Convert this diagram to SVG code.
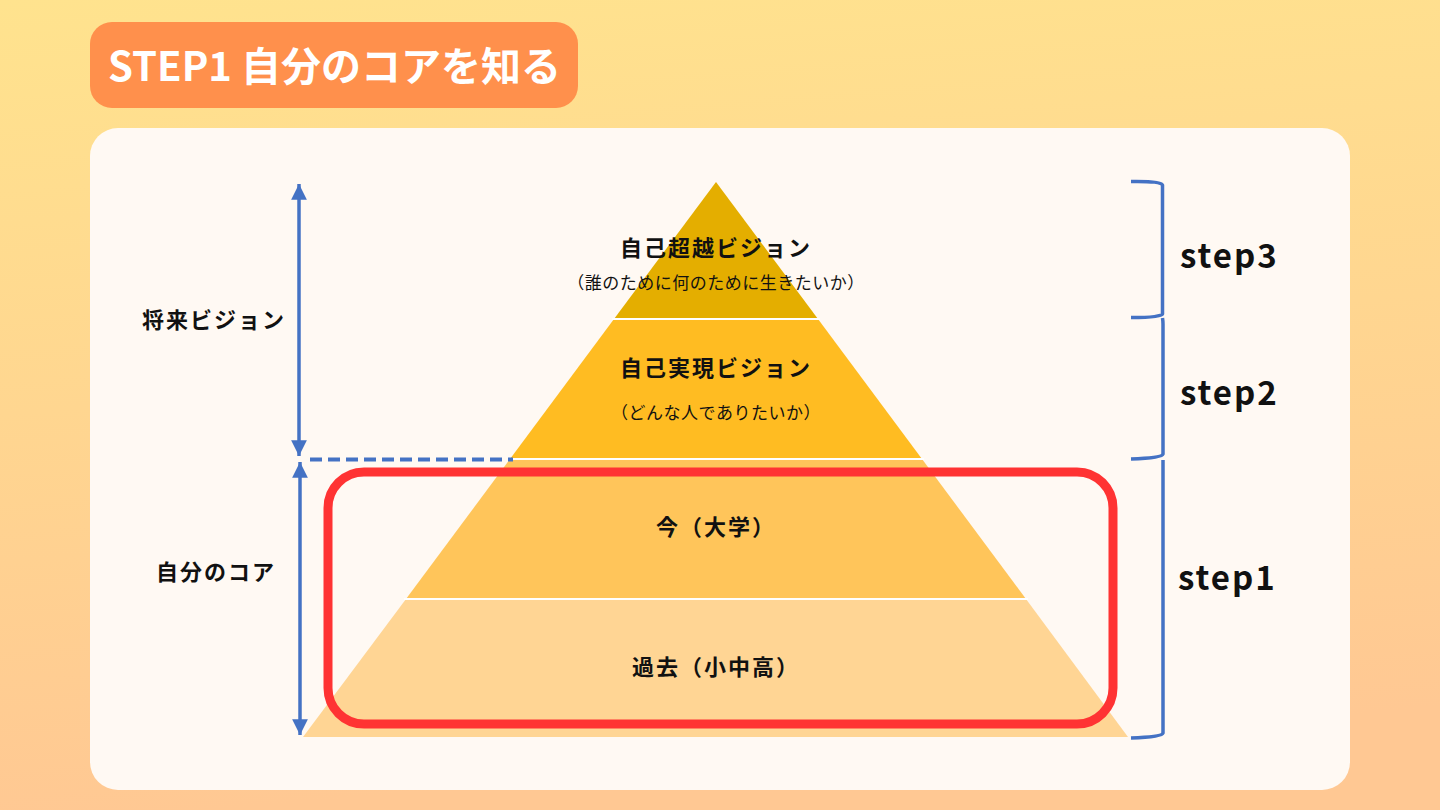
<svg xmlns="http://www.w3.org/2000/svg" width="1440" height="810" viewBox="0 0 1440 810">
<defs>
<linearGradient id="bg" x1="0" y1="0" x2="0.15" y2="1">
<stop offset="0" stop-color="#FFE38E"/>
<stop offset="0.5" stop-color="#FFD690"/>
<stop offset="1" stop-color="#FFC893"/>
</linearGradient>
<marker id="ah" viewBox="0 0 10 10" refX="10" refY="5" markerWidth="4.5" markerHeight="4.5" orient="auto-start-reverse" markerUnits="strokeWidth">
<path d="M0,0 L10,5 L0,10 z" fill="#4472C4"/>
</marker>
<style>
.jp{font-family:"Noto Sans CJK JP","Noto Sans",sans-serif;font-weight:bold;fill:#111}
.main{font-size:22px;letter-spacing:2px}
.sub{font-size:17px;letter-spacing:0.5px;font-weight:normal}
.step{font-family:"Noto Sans CJK JP","Noto Sans",sans-serif;font-weight:bold;font-size:33px;letter-spacing:2px;fill:#111}
.blue{stroke:#4472C4;stroke-width:3.5;fill:none}
.sep{stroke:#FFFFFF;stroke-width:2}
</style>
</defs>
<rect width="1440" height="810" fill="url(#bg)"/>
<g id="title">
<rect x="90" y="22" width="488" height="86" rx="22" fill="#FF904C"/>
<text x="108" y="81" font-family="'Noto Sans CJK JP','Noto Sans',sans-serif" font-weight="bold" font-size="40" fill="#FFFFFF">STEP1 自分のコアを知る</text>
</g>
<g id="panel">
<rect x="90" y="128" width="1260" height="662" rx="28" fill="#FFF9F3"/>
</g>
<g id="layer-top">
<polygon points="716,182 818,319 614,319" fill="#E4AE00"/>
<text class="jp main" x="716" y="256" text-anchor="middle">自己超越ビジョン</text>
<text class="jp sub" x="716" y="289" text-anchor="middle">（誰のために何のために生きたいか）</text>
</g>
<g id="layer-self">
<polygon points="614,319 818,319 922,459 510,459" fill="#FFBC22"/>
<text class="jp main" x="716" y="376" text-anchor="middle">自己実現ビジョン</text>
<text class="jp sub" x="716" y="419" text-anchor="middle">（どんな人でありたいか）</text>
</g>
<g id="layer-now">
<polygon points="510,459 922,459 1026,599 406,599" fill="#FFC55A"/>
<text class="jp main" x="716" y="535" text-anchor="middle">今（大学）</text>
</g>
<g id="layer-past">
<polygon points="406,599 1026,599 1128,737 303,737" fill="#FFD594"/>
<text class="jp main" x="716" y="675" text-anchor="middle">過去（小中高）</text>
</g>
<g id="separators">
<line class="sep" x1="612" y1="319" x2="820" y2="319"/>
<line class="sep" x1="508" y1="459" x2="924" y2="459"/>
<line class="sep" x1="404" y1="599" x2="1028" y2="599"/>
</g>
<g id="label-future">
<text class="jp main" x="214" y="328" text-anchor="middle">将来ビジョン</text>
</g>
<g id="label-core">
<text class="jp main" x="216" y="580" text-anchor="middle">自分のコア</text>
</g>
<g id="highlight">
<rect x="328" y="472" width="785" height="252" rx="36" fill="none" stroke="#FF3333" stroke-width="9"/>
</g>
<g id="step3"><text class="step" x="1180" y="268">step3</text></g>
<g id="step2"><text class="step" x="1180" y="405">step2</text></g>
<g id="step1"><text class="step" x="1178" y="590">step1</text></g>
<g id="connectors">
<line class="blue" x1="299" y1="184" x2="299" y2="456" marker-start="url(#ah)" marker-end="url(#ah)"/>
<line class="blue" x1="300" y1="462" x2="300" y2="735" marker-start="url(#ah)" marker-end="url(#ah)"/>
<line x1="310" y1="459.5" x2="513" y2="459.5" stroke="#4472C4" stroke-width="4" stroke-dasharray="12,6"/>
<path class="blue" d="M1131,181.5 Q1162,181 1162.5,185 L1162.5,314 Q1162,317.5 1131,317.5"/>
<path class="blue" d="M1162.5,318 Q1163,321 1163,324 L1163,454 Q1162,458 1131,459"/>
<path class="blue" d="M1163,460 Q1163,463 1163,466 L1163,733 Q1162,737 1131,738"/>
</g>
</svg>
